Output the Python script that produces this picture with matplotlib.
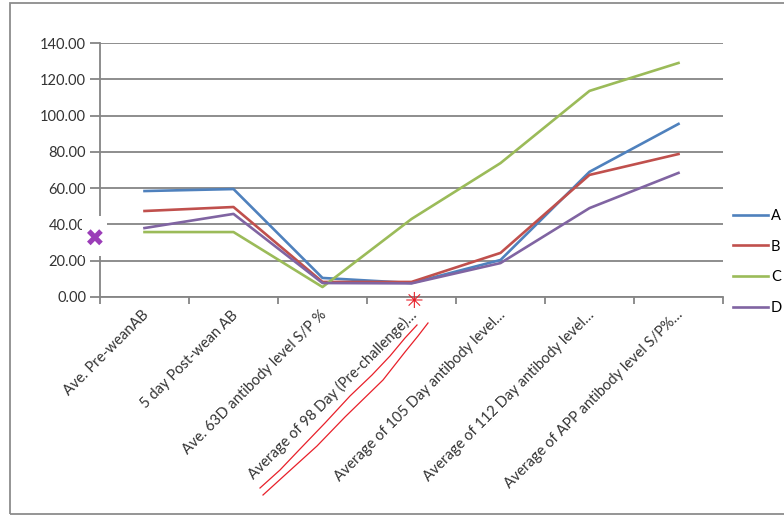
import matplotlib.pyplot as plt
from matplotlib.patches import Rectangle

# категории по оси X (подписи обрезаны, как в оригинале Excel)
categories = [
    "Ave. Pre-weanAB",
    "5 day Post-wean AB",
    "Ave. 63D antibody level S/P %",
    "Average of 98 Day (Pre-challenge)…",
    "Average of 105 Day antibody level…",
    "Average of 112 Day antibody level…",
    "Average of APP antibody level S/P%…",
]

series_a = [58.4, 59.5, 10.5, 7.7, 20.4, 69.0, 95.4]
series_b = [47.4, 49.6, 8.3, 8.3, 24.3, 67.3, 78.8]
series_c = [35.8, 35.8, 5.5, 43.0, 73.8, 113.6, 129.0]
series_d = [38.0, 45.8, 7.7, 7.5, 18.7, 49.0, 68.4]

series_names = ["A", "B", "C", "D"]
series_colors = ["#4F81BD", "#C0504D", "#9BBB59", "#8064A2"]

y_ticks = [0, 20, 40, 60, 80, 100, 120, 140]

plt.rcParams['font.family'] = ['Lato', 'DejaVu Sans']

FONT = 10.5
GRAY = "#858585"


def px(x, y):
    # пиксели картинки -> доли фигуры
    return x / 784, 1 - y / 517


fig = plt.figure(figsize=(7.84, 5.17), dpi=100)
fig.patch.set_facecolor("white")

# рамка всей диаграммы
fig.patches.append(Rectangle((10 / 784, 3 / 517), 1.0, 511 / 517,
                             transform=fig.transFigure, fill=False,
                             edgecolor="#8c8c8c", linewidth=1.3))

ax = fig.add_axes([100 / 784, 1 - 297 / 517, 623 / 784, 254 / 517])

x = range(len(categories))
for values, name, color in zip([series_a, series_b, series_c, series_d],
                               series_names, series_colors):
    ax.plot(x, values, color=color, linewidth=1.9, label=name)

ax.set_xlim(-0.5, len(categories) - 0.5)
ax.set_ylim(0, 140)
ax.set_yticks(y_ticks)
ax.set_yticklabels([f"{v:.2f}" for v in y_ticks], fontsize=FONT, color="#333333")
ax.yaxis.grid(True, color=GRAY, linewidth=1.3)
ax.set_axisbelow(True)

# деления оси X между категориями
ax.set_xticks([i - 0.5 for i in range(len(categories) + 1)])
ax.set_xticklabels([])
ax.tick_params(axis="x", length=5, color=GRAY, width=1.3)
ax.tick_params(axis="y", length=7, color=GRAY, width=1.3, pad=3)

for i, label in enumerate(categories):
    ax.text(i - 0.03, -6, label, rotation=45, ha="right", va="top",
            rotation_mode="anchor", fontsize=FONT, color="#333333")

for side in ["top", "right"]:
    ax.spines[side].set_visible(False)
for side in ["left", "bottom"]:
    ax.spines[side].set_color(GRAY)
    ax.spines[side].set_linewidth(1.3)

fig.legend(loc="upper left", bbox_to_anchor=(727 / 784, 1 - 203 / 517),
           frameon=False, fontsize=FONT, handlelength=2.4, handletextpad=0.2,
           labelspacing=1.15, borderaxespad=0)

# пометки поверх картинки: фиолетовый крест (на белой подложке),
# красная звёздочка и подчёркивания
fig.add_artist(Rectangle(px(82, 256), 25 / 784, 40 / 517,
                         transform=fig.transFigure, facecolor="white",
                         edgecolor="none", zorder=5))
fig.text(*px(95, 240), "✖", color="#9b3db8", fontsize=17,
         ha="center", va="center", family=["DejaVu Sans"], zorder=6)
fig.text(*px(414, 302), "✳", color="#e8202a", fontsize=16,
         ha="center", va="center", family=["DejaVu Sans"])

line1 = [(260, 488), (280, 470), (300, 449), (325, 423), (350, 396),
         (372, 375), (390, 356), (405, 338), (417, 325)]
line2 = [(263, 495), (285, 475), (317, 446), (345, 417), (383, 380),
         (405, 352), (418, 336), (428, 323)]
for pts in [line1, line2]:
    xs, ys = zip(*[px(a, b) for a, b in pts])
    fig.add_artist(plt.Line2D(xs, ys, color="#e8202a", linewidth=0.9))

fig.savefig("out.png", dpi=100)
